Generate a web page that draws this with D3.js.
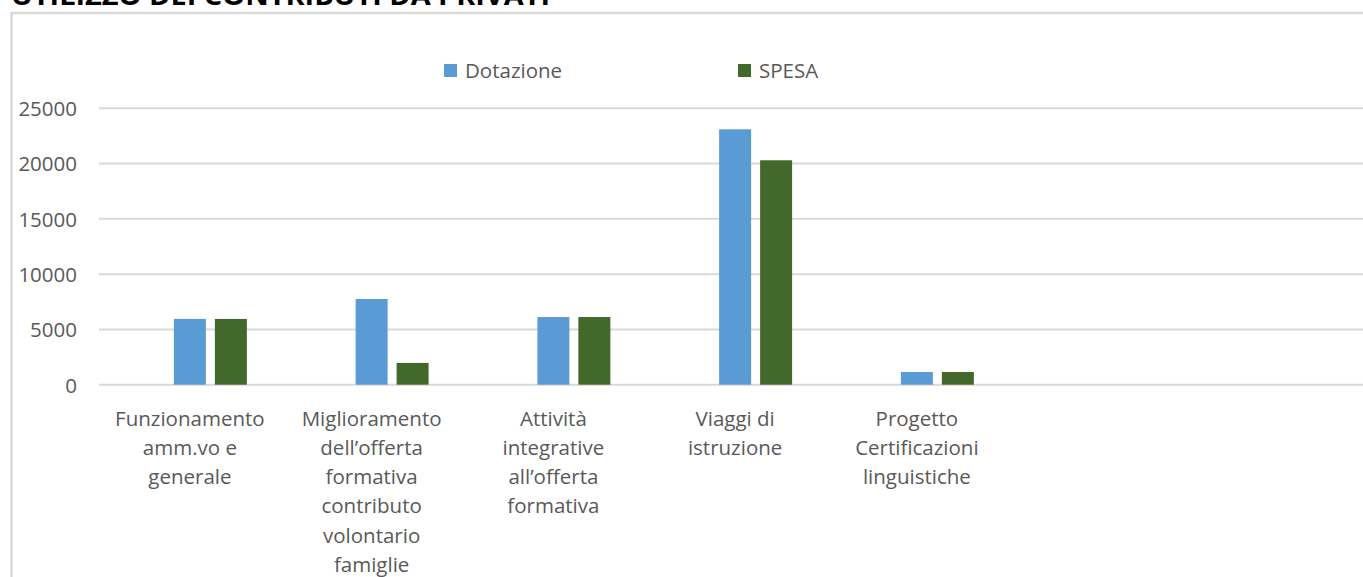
<!DOCTYPE html>
<html><head><meta charset="utf-8">
<script src="https://cdn.jsdelivr.net/npm/d3@7/dist/d3.min.js"></script>
<style>
html,body{margin:0;padding:0;background:#fff;overflow:hidden;}
svg{display:block;}
text{font-family:"Open Sans",sans-serif;}
</style></head>
<body>
<svg id="chart" width="1363" height="577"></svg>
<script>
const title = "UTILIZZO DEI CONTRIBUTI DA PRIVATI";
const categories = [
  "Funzionamento amm.vo e generale",
  "Miglioramento dell’offerta formativa contributo volontario famiglie",
  "Attività integrative all’offerta formativa",
  "Viaggi di istruzione",
  "Progetto Certificazioni linguistiche"
];
const categoryLines = [
  ["Funzionamento","amm.vo e","generale"],
  ["Miglioramento","dell’offerta","formativa","contributo","volontario","famiglie"],
  ["Attività","integrative","all’offerta","formativa"],
  ["Viaggi di","istruzione"],
  ["Progetto","Certificazioni","linguistiche"]
];
const seriesNames = ["Dotazione","SPESA"];
const dotazione = [5950, 7750, 6120, 23100, 1150];
const spesa     = [5950, 1970, 6120, 20300, 1150];
const yTicks = [0, 5000, 10000, 15000, 20000, 25000];
const colors = {"Dotazione":"#5b9bd5","SPESA":"#43682b"};

const svg = d3.select("#chart");

// chart frame
svg.append("rect").attr("x",11.5).attr("y",13).attr("width",1500).attr("height",700)
  .attr("fill","#fff").attr("stroke","#d9d9d9").attr("stroke-width",2.5);

// title (mostly cropped at top)
svg.append("text").attr("x",11).attr("y",5)
  .attr("font-family","'Liberation Sans',sans-serif").attr("font-weight","bold")
  .attr("font-size",26).attr("fill","#000")
  .attr("textLength",539).attr("lengthAdjust","spacingAndGlyphs")
  .text(title);

const plotLeft = 99, slotCount = 7, step = 181.75;
const x0 = d3.scaleBand().domain(d3.range(slotCount)).range([plotLeft, plotLeft + slotCount*step]);
const slotKeys = ["_blank"].concat(seriesNames);
const x1 = d3.scaleBand().domain(slotKeys).range([0, x0.bandwidth()])
  .paddingInner(9/41).paddingOuter(33.9/41);
const y = d3.scaleLinear().domain([0, 25000]).range([384.7, 108.3]);

// gridlines
svg.append("g").selectAll("line").data(yTicks).join("line")
  .attr("x1", plotLeft).attr("x2", plotLeft + slotCount*step)
  .attr("y1", d => y(d)).attr("y2", d => y(d))
  .attr("stroke","#d9d9d9").attr("stroke-width",2);

// y axis labels
const yAxis = d3.axisLeft(y).tickValues(yTicks).tickSize(0).tickPadding(0).tickFormat(d3.format("d"));
const ya = svg.append("g").attr("transform","translate(77,0)").call(yAxis);
ya.select(".domain").remove();
ya.selectAll("text").attr("font-family","'Open Sans',sans-serif").attr("font-size",20.5)
  .attr("fill","#595959").attr("dy","0.36em");

// bars
const rows = categories.map((c,i) => ({i, Dotazione: dotazione[i], SPESA: spesa[i]}));
const groups = svg.append("g").selectAll("g").data(rows).join("g")
  .attr("transform", d => `translate(${x0(d.i)},0)`);
groups.selectAll("rect").data(d => seriesNames.map(k => ({k, v: d[k]}))).join("rect")
  .attr("x", d => x1(d.k)).attr("width", x1.bandwidth())
  .attr("y", d => y(d.v)).attr("height", d => y(0) - y(d.v))
  .attr("fill", d => colors[d.k]);

// category labels
const lab = svg.append("g").selectAll("text").data(categoryLines).join("text")
  .attr("text-anchor","middle").attr("font-size",20.5).attr("fill","#595959");
lab.each(function(lines, i){
  d3.select(this).selectAll("tspan").data(lines).join("tspan")
    .attr("x", x0(i) + x0.bandwidth()/2)
    .attr("y", (d,j) => 425.7 + j*29.2)
    .text(d => d);
});

// legend
const legendX = d3.scaleBand().domain(slotKeys).range([150, 150 + 3*294]);
const leg = svg.append("g").selectAll("g").data(seriesNames).join("g")
  .attr("transform", d => `translate(${legendX(d)},0)`);
leg.append("rect").attr("x",0).attr("y",64).attr("width",13).attr("height",13)
  .attr("fill", d => colors[d]);
leg.append("text").attr("x",21).attr("y",78).attr("font-size",20.5).attr("fill","#595959")
  .text(d => d);
</script>
</body></html>
